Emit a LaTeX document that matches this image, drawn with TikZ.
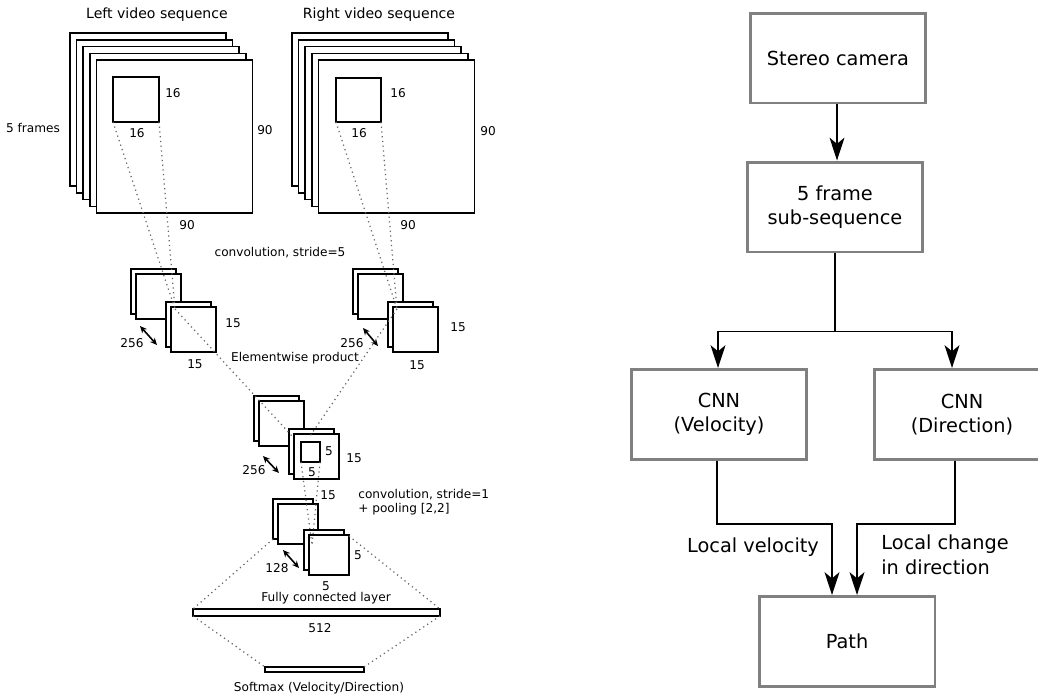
\documentclass[tikz,border=0pt]{standalone}
\usepackage{fontspec}
\setmainfont{DejaVu Sans}
\usetikzlibrary{arrows.meta,positioning,calc}

\tikzset{
  lbl/.style={font=\fontsize{6.9}{8}\selectfont, inner sep=0pt},
  ttl/.style={font=\fontsize{8}{9.6}\selectfont, inner sep=0pt},
  frame/.style={draw, fill=white, line width=1pt},
  fmap/.style={draw, fill=white, line width=0.9pt},
  proj/.style={draw=black!60, dotted, line width=0.7pt},
  dimarrow/.style={{Stealth[length=4pt,width=3.6pt]}-{Stealth[length=4pt,width=3.6pt]}, line width=0.9pt},
  blk/.style={draw=black!50, line width=1.7pt, minimum width=3.52cm, minimum height=1.8cm,
    align=center, font=\fontsize{11}{14}\selectfont},
  flow/.style={-{Stealth[length=13pt,width=8.5pt,inset=3.5pt]}, line width=0.8pt},
  flbl/.style={font=\fontsize{11}{14}\selectfont, inner sep=0pt, align=left}
}

% two stacked feature maps, x, y, size
\newcommand{\fpair}[3]{%
  \draw[fmap] (#1,#2) rectangle ++(#3,#3);
  \draw[fmap] (#1+5,#2+5) rectangle ++(#3,#3);
}

\begin{document}
\begin{tikzpicture}[x=0.02cm,y=-0.02cm]
\useasboundingbox (0,0) rectangle (1038,697);
\clip (0,0) rectangle (1038,697);

% input frames
\foreach \i in {0,...,4}
  \draw[frame] (70+6.6*\i,33+6.8*\i) rectangle ++(156,153);
\foreach \i in {0,...,4}
  \draw[frame] (292+6.6*\i,33+6.8*\i) rectangle ++(156,153);
\draw[fmap] (113,77) rectangle (159,122);
\draw[fmap] (336,78) rectangle (381,122);

\node[ttl] (lseq) at (157,15) {Left video sequence};
\node[ttl] (rseq) at (379,15) {Right video sequence};
\node[lbl] (nfr) at (33,128) {5 frames};
\node[lbl] (l16a) at (173,93) {16};
\node[lbl] (l16b) at (137,133) {16};
\node[lbl] (l90a) at (265,130) {90};
\node[lbl] (l90b) at (187,225) {90};
\node[lbl] (r16a) at (398,93) {16};
\node[lbl] (r16b) at (359,133) {16};
\node[lbl] (r90a) at (488,131) {90};
\node[lbl] (r90b) at (408,225) {90};

% convolution, stride 5
\node[lbl] (conv1) at (280,253) {convolution, stride=5};
\fpair{131}{269}{45}
\fpair{166}{302}{45}
\fpair{353}{269}{45}
\fpair{388}{302}{45}
\node[lbl] (lc15a) at (233,323) {15};
\node[lbl] (lc15b) at (195,364) {15};
\node[lbl] (lc256) at (132,343) {256};
\draw[dimarrow] (140,326) -- (157,345);
\node[lbl] (rc15a) at (458,327) {15};
\node[lbl] (rc15b) at (417,365) {15};
\node[lbl] (rc256) at (352,343) {256};
\draw[dimarrow] (363,328) -- (378,346);

% elementwise product
\node[lbl] (prod) at (295,358) {Elementwise product};
\fpair{254}{396}{45}
\fpair{289}{429}{45}
\draw[fmap] (301,442) rectangle (320,462);
\node[lbl] (p5a) at (329,451) {5};
\node[lbl] (p15a) at (354,458) {15};
\node[lbl] (p5b) at (312,472) {5};
\node[lbl] (p256) at (254,470) {256};
\draw[dimarrow] (263,456) -- (279,473);
\node[lbl] (p15b) at (328,495) {15};

% convolution + pooling
\node[lbl, anchor=west, align=left] (conv2) at (358,502) {convolution, stride=1\\+ pooling [2,2]};
\fpair{273}{499}{40}
\fpair{304}{530}{40}
\node[lbl] (q5a) at (358,555) {5};
\node[lbl] (q128) at (277,568) {128};
\draw[dimarrow] (283,550) -- (299,568);
\node[lbl] (q5b) at (326,586) {5};

% fully connected, softmax
\node[lbl] (fcl) at (326,598) {Fully connected layer};
\draw[fmap] (193,609) rectangle (440,616);
\node[lbl] (n512) at (320,628) {512};
\draw[fmap] (265,667) rectangle (364,672);
\node[lbl] (smax) at (319,688) {Softmax (Velocity/Direction)};

% projection lines
\coordinate (Lbl) at (113,122);
\coordinate (Lbr) at (159,122);
\coordinate (Lc) at (175,309);
\coordinate (Rbl) at (336,122);
\coordinate (Rbr) at (381,122);
\coordinate (Rc) at (397,309);
\coordinate (Pl) at (292,436);
\coordinate (Pr) at (310,436);
\coordinate (Ibl) at (301,462);
\coordinate (Ibr) at (320,462);
\coordinate (Qc) at (312,545);
\coordinate (Qbl) at (273,539);
\coordinate (Qtr) at (349,536);
\coordinate (FCtl) at (193,609);
\coordinate (FCtr) at (440,609);
\coordinate (FCbl) at (193,616);
\coordinate (FCbr) at (440,616);
\coordinate (SMl) at (265,667);
\coordinate (SMr) at (364,667);
\draw[proj] (Lbl) -- (Lc) (Lbr) -- (Lc) (Lc) -- (Pl);
\draw[proj] (Rbl) -- (Rc) (Rbr) -- (Rc) (Rc) -- (Pr);
\draw[proj] (Ibl) -- (Qc) (Ibr) -- (Qc);
\draw[proj] (Qbl) -- (FCtl) (Qtr) -- (FCtr);
\draw[proj] (FCbl) -- (SMl) (FCbr) -- (SMr);

% pipeline
\node[blk] (cam) at (838,58) {Stereo camera};
\node[blk] (seq) at (835,207) {5 frame\\sub-sequence};
\node[blk] (vel) at (719,414.5) {CNN\\(Velocity)};
\node[blk] (dir) at (962,414.5) {CNN\\(Direction)};
\node[blk] (path) at (847,641.5) {Path};

\draw[flow] ($(cam.south)+(-1,0)$) -- ($(cam.south |- seq.north)+(-1,0)$);
\draw[line width=0.8pt] (seq.south) -- ++(0,78) coordinate (split);
\draw[flow] (split) -| ($(vel.north)+(-1,0)$);
\draw[flow] (split) -| ($(dir.north)+(-10,0)$);
\draw[flow] ($(vel.south)+(-2,0)$) -- ++(0,63) -| ($(path.north)+(-15,0)$);
\draw[flow] ($(dir.south)+(-7,0)$) -- ++(0,63) -| ($(path.north)+(10,0)$);
\node[flbl] (lvel) at (753,547) {Local velocity};
\node[flbl, anchor=west] (ldir) at (881,555) {Local change\\in direction};
\end{tikzpicture}
\end{document}
